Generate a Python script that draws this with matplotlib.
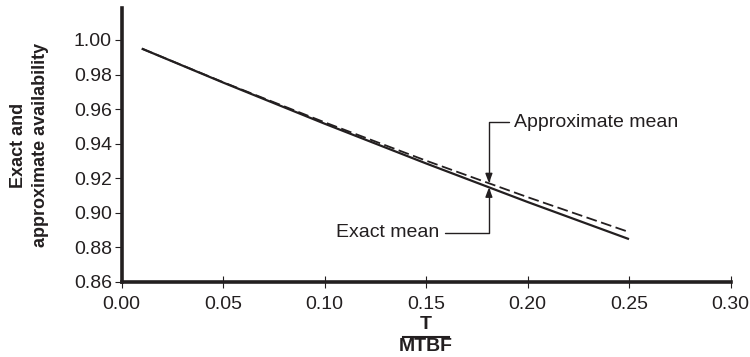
import matplotlib
matplotlib.use("Agg")
import matplotlib.pyplot as plt

plt.rcParams['font.family'] = ['Liberation Sans', 'DejaVu Sans']

# Data
t_ratio = [0.01, 0.05, 0.10, 0.15, 0.20, 0.25]
exact_avail = [0.995, 0.9754, 0.9516, 0.9286, 0.9063, 0.8848]
approx_avail = [0.995, 0.9756, 0.9524, 0.9302, 0.9091, 0.8889]
x_ticks = [0.00, 0.05, 0.10, 0.15, 0.20, 0.25, 0.30]
y_ticks = [0.86, 0.88, 0.90, 0.92, 0.94, 0.96, 0.98, 1.00]
mark_x = 0.181
exact_at_mark = 0.9147
approx_at_mark = 0.9172

fig = plt.figure(figsize=(7.5, 3.57), dpi=100)
ax = fig.add_axes([0.162, 0.2101, 0.812, 0.7675])
col = '#231f20'
ax.plot(t_ratio, exact_avail, color=col, lw=1.6, solid_capstyle='butt')
ax.plot(t_ratio, approx_avail, color=col, lw=1.3, ls=(0, (6, 2.5)))

ax.set_xlim(0, 0.30)
ax.set_ylim(0.86, 1.0185)
ax.set_xticks(x_ticks)
ax.set_xticklabels([f"{v:.2f}" for v in x_ticks])
ax.set_yticks(y_ticks)
ax.set_yticklabels([f"{v:.2f}" for v in y_ticks])
for s in ['top', 'right']:
    ax.spines[s].set_visible(False)
for s in ['left', 'bottom']:
    ax.spines[s].set_linewidth(2.6)
    ax.spines[s].set_color(col)
ax.tick_params(axis='x', direction='inout', length=8.5, width=0.8, color=col, labelsize=14, pad=6, labelcolor=col)
ax.tick_params(axis='y', direction='out', length=5, width=0.8, color=col, labelsize=14, pad=2, labelcolor=col)

ax.set_ylabel("Exact and\napproximate availability", fontsize=13, fontweight='bold',
              color=col, linespacing=1.4, labelpad=18)

# x label: T over MTBF
ax.text(0.5, -0.154, "T", transform=ax.transAxes, ha='center', va='center',
        fontsize=14, fontweight='bold', color=col)
ax.text(0.5, -0.236, "MTBF", transform=ax.transAxes, ha='center', va='center',
        fontsize=14, fontweight='bold', color=col)
ax.plot([0.4616, 0.5384], [-0.199, -0.199], transform=ax.transAxes, color=col, lw=1.5, clip_on=False)

arrow = dict(arrowstyle='-|>,head_length=0.4,head_width=0.15', color=col, lw=1.0,
             shrinkA=2, shrinkB=0, connectionstyle="angle,angleA=0,angleB=90,rad=0")
ax.annotate("Approximate mean", xy=(mark_x, approx_at_mark), xytext=(0.1935, 0.9523),
            fontsize=14, color=col, ha='left', va='center', arrowprops=arrow)
ax.annotate("Exact mean", xy=(mark_x, exact_at_mark), xytext=(0.1565, 0.8885),
            fontsize=14, color=col, ha='right', va='center', arrowprops=arrow)

fig.savefig("out.png", dpi=100)
